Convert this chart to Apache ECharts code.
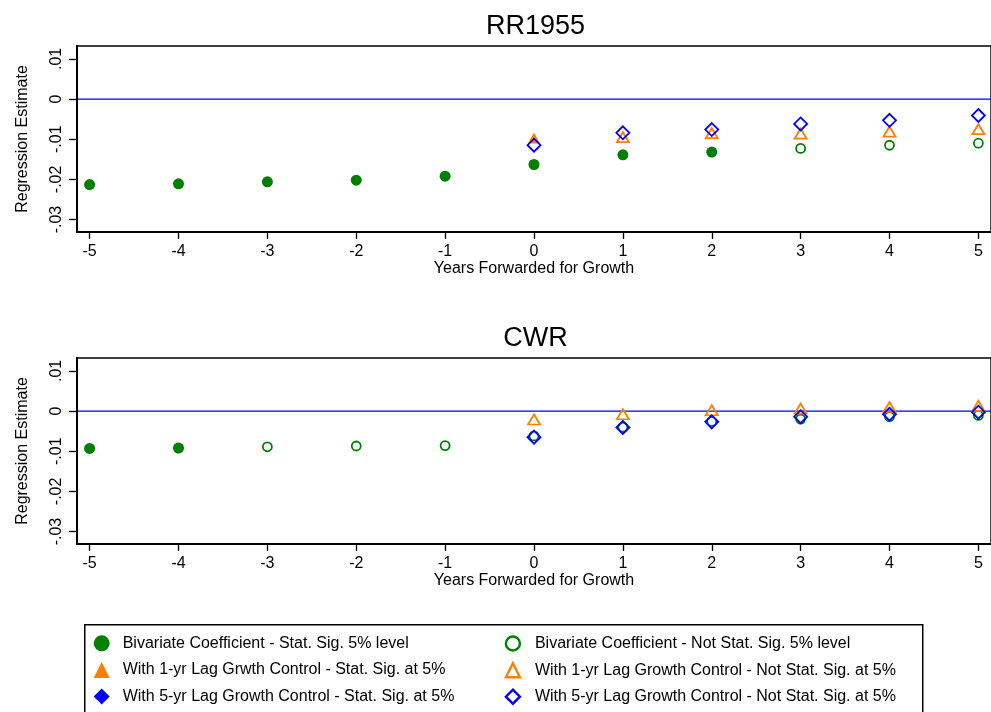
<!DOCTYPE html>
<html>
<head>
<meta charset="utf-8">
<script src="https://cdn.jsdelivr.net/npm/echarts@6/dist/echarts.min.js"></script>
<style>
html,body{margin:0;padding:0;background:#fff;}
#chart{width:991px;height:712px;}
</style>
</head>
<body>
<div id="chart"></div>
<script>
// ---- data ----
const years = [-5, -4, -3, -2, -1, 0, 1, 2, 3, 4, 5];
const xRange = [-5.142, 5.142];
const yRange = [-0.0331, 0.0132];
const yTicks = [-0.03, -0.02, -0.01, 0, 0.01];
const yTickLabels = ['-.03', '-.02', '-.01', '0', '.01'];
const refLineValue = 0;
const panelTitles = ['RR1955', 'CWR'];
const seriesNames = [
  'Bivariate Coefficient - Stat. Sig. 5% level',
  'Bivariate Coefficient - Not Stat. Sig. 5% level',
  'With 1-yr Lag Grwth Control - Stat. Sig. at 5%',
  'With 1-yr Lag Growth Control - Not Stat. Sig. at 5%',
  'With 5-yr Lag Growth Control - Stat. Sig. at 5%',
  'With 5-yr Lag Growth Control - Not Stat. Sig. at 5%'
];
// RR1955 panel
const rrBivSig  = [-0.0213, -0.0211, -0.0206, -0.0202, -0.0192, -0.0163, -0.0139, -0.0132, null, null, null];
const rrBivNot  = [null, null, null, null, null, null, null, null, -0.0123, -0.0115, -0.0110];
const rrLag1Sig = [null, null, null, null, null, -0.0097, null, null, null, null, null];
const rrLag1Not = [null, null, null, null, null, null, -0.0095, -0.0085, -0.0086, -0.0081, -0.0075];
const rrLag5Sig = [null, null, null, null, null, null, null, null, null, null, null];
const rrLag5Not = [null, null, null, null, null, -0.0115, -0.0084, -0.0076, -0.0062, -0.0053, -0.0041];
// CWR panel
const cwBivSig  = [-0.0093, -0.0092, null, null, null, null, null, null, null, null, null];
const cwBivNot  = [null, null, -0.0089, -0.0087, -0.0086, -0.0062, -0.0040, -0.0026, -0.0020, -0.0014, -0.0011];
const cwLag1Sig = [null, null, null, null, null, null, null, null, null, null, null];
const cwLag1Not = [null, null, null, null, null, -0.0021, -0.0008, 0.0002, 0.0006, 0.0010, 0.0013];
const cwLag5Sig = [null, null, null, null, null, null, null, null, null, null, null];
const cwLag5Not = [null, null, null, null, null, -0.0065, -0.0041, -0.0027, -0.0014, -0.0008, -0.0003];

// ---- styles ----
const GREEN = '#008000', ORANGE = '#ff7f00', BLUE = '#0000ff';
const FONT = 'Liberation Sans, Arial, Helvetica, sans-serif';

function pts(vals) {
  const out = [];
  years.forEach((x, i) => { if (vals[i] !== null) out.push([x, vals[i]]); });
  return out;
}

const markerStyles = [
  { symbol: 'circle',   symbolSize: 11, itemStyle: { color: GREEN, opacity: 1 } },
  { symbol: 'circle',   symbolSize: 9,  itemStyle: { color: '#fff', borderColor: GREEN, borderWidth: 1.8, opacity: 1 } },
  { symbol: 'triangle', symbolSize: [12, 11], itemStyle: { color: ORANGE, opacity: 1 } },
  { symbol: 'triangle', symbolSize: [12, 10], itemStyle: { color: 'rgba(255,255,255,0)', borderColor: ORANGE, borderWidth: 1.8, opacity: 1 } },
  { symbol: 'diamond',  symbolSize: 14, itemStyle: { color: BLUE, opacity: 1 } },
  { symbol: 'diamond',  symbolSize: 13, itemStyle: { color: 'rgba(255,255,255,0)', borderColor: BLUE, borderWidth: 1.8, opacity: 1 } }
];

const panels = [
  [rrBivSig, rrBivNot, rrLag1Sig, rrLag1Not, rrLag5Sig, rrLag5Not],
  [cwBivSig, cwBivNot, cwLag1Sig, cwLag1Not, cwLag5Sig, cwLag5Not]
];

const gridTops = [46, 358];
const grids = gridTops.map(t => ({
  left: 77, top: t, width: 918, height: 186,
  show: true, borderColor: '#000', borderWidth: 1.4, backgroundColor: '#fff'
}));

const xAxes = gridTops.map((t, gi) => ({
  type: 'value', gridIndex: gi, min: xRange[0], max: xRange[1],
  name: 'Years Forwarded for Growth', nameLocation: 'middle', nameGap: 29,
  nameTextStyle: { fontFamily: FONT, fontSize: 16, color: '#000' },
  axisLine: { show: true, onZero: false, lineStyle: { color: '#000', width: 2 } },
  axisTick: { show: true, inside: false, length: 7, customValues: years, lineStyle: { color: '#000', width: 1.3 } },
  axisLabel: { show: true, margin: 12, customValues: years, fontFamily: FONT, fontSize: 16, color: '#000',
    formatter: v => String(Math.round(v)) },
  splitLine: { show: false }
}));

const yAxes = gridTops.map((t, gi) => ({
  type: 'value', gridIndex: gi, min: yRange[0], max: yRange[1],
  name: 'Regression Estimate', nameLocation: 'middle', nameGap: 46, nameRotate: 90,
  nameTextStyle: { fontFamily: FONT, fontSize: 16, color: '#000' },
  axisLine: { show: true, onZero: false, lineStyle: { color: '#000', width: 2 } },
  axisTick: { show: true, inside: false, length: 8, customValues: yTicks, lineStyle: { color: '#000', width: 1.3 } },
  axisLabel: { show: true, rotate: 90, margin: 12, customValues: yTicks, fontFamily: FONT, fontSize: 16, color: '#000',
    formatter: v => {
      let best = 0;
      yTicks.forEach((tv, i) => { if (Math.abs(tv - v) < Math.abs(yTicks[best] - v)) best = i; });
      return yTickLabels[best];
    } },
  splitLine: { show: false }
}));

const series = [];
panels.forEach((arrs, gi) => {
  // zero reference line
  series.push({
    type: 'line', xAxisIndex: gi, yAxisIndex: gi, silent: true, z: 1,
    symbol: 'none', data: [[xRange[0], refLineValue], [xRange[1], refLineValue]],
    lineStyle: { color: '#0000f0', width: 1.3, type: 'solid', opacity: 1 }
  });
  arrs.forEach((vals, si) => {
    const s = Object.assign({
      name: seriesNames[si], type: 'scatter', xAxisIndex: gi, yAxisIndex: gi,
      data: pts(vals), z: 3 + si, silent: true
    }, JSON.parse(JSON.stringify(markerStyles[si])));
    series.push(s);
  });
});

const legendIcon = [
  { icon: 'circle',   itemStyle: { color: GREEN, borderWidth: 0, opacity: 1 } },
  { icon: 'circle',   itemStyle: { color: '#fff', borderColor: GREEN, borderWidth: 2.4, opacity: 1 } },
  { icon: 'triangle', itemStyle: { color: ORANGE, borderWidth: 0, opacity: 1 } },
  { icon: 'triangle', itemStyle: { color: '#fff', borderColor: ORANGE, borderWidth: 2.4, opacity: 1 } },
  { icon: 'diamond',  itemStyle: { color: BLUE, borderWidth: 0, opacity: 1 } },
  { icon: 'diamond',  itemStyle: { color: '#fff', borderColor: BLUE, borderWidth: 2.4, opacity: 1 } }
];
const legendRowCenters = [643.3, 670, 696.5];
const legendColLefts = [93.7, 504.7];

const legends = seriesNames.map((nm, i) => {
  const col = i % 2, row = Math.floor(i / 2);
  const hollow = col === 1;
  return {
    orient: 'horizontal', left: legendColLefts[col], top: legendRowCenters[row] - 8,
    padding: 0, itemGap: 0,
    itemWidth: hollow ? 14 : 16, itemHeight: hollow ? 14 : 16, selectedMode: false,
    textStyle: { fontFamily: FONT, fontSize: 16, color: '#000', lineHeight: 16, padding: [0, 0, 0, hollow ? 10 : 8] },
    data: [Object.assign({ name: nm }, legendIcon[i])]
  };
});

const option = {
  animation: false,
  backgroundColor: '#fff',
  title: panelTitles.map((txt, i) => ({
    text: txt, left: 535.5, top: gridTops[i] - 33, textAlign: 'center', padding: 0,
    textStyle: { fontFamily: FONT, fontSize: 27, fontWeight: 'normal', color: '#000' }
  })),
  grid: grids,
  xAxis: xAxes,
  yAxis: yAxes,
  legend: legends,
  graphic: [{
    type: 'rect', left: 84, top: 624, silent: true, z: -1,
    shape: { width: 838, height: 120 },
    style: { fill: '#fff', stroke: '#000', lineWidth: 1.5 }
  }],
  series: series
};

const chart = echarts.init(document.getElementById('chart'), null, { renderer: 'canvas' });
chart.setOption(option);
</script>
</body>
</html>
